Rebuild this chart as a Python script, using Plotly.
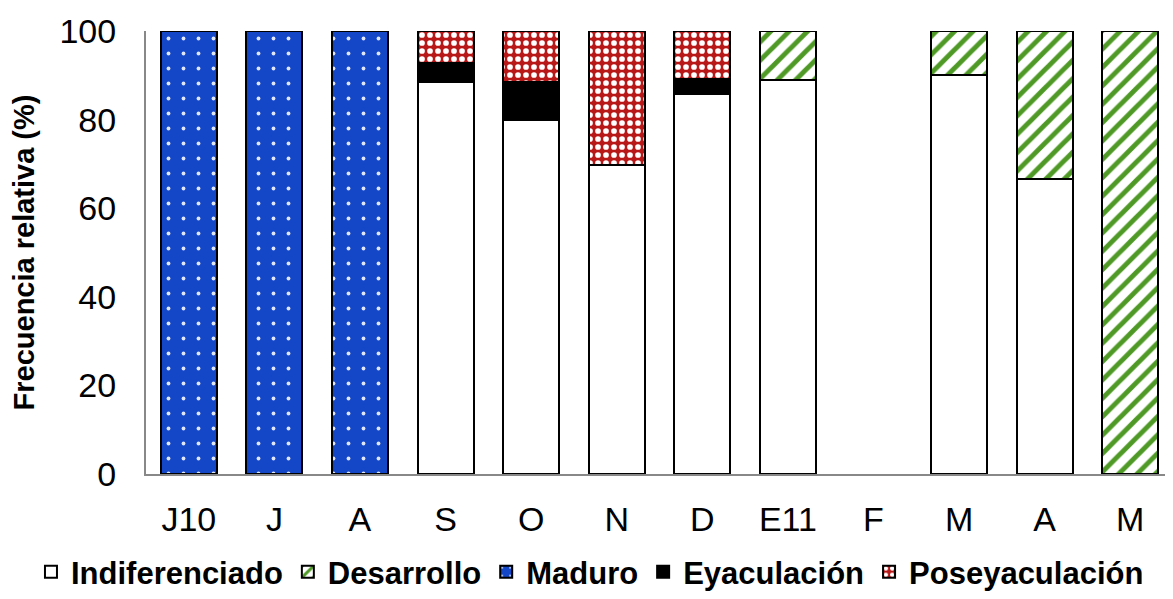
import plotly.graph_objects as go

months = ["J10", "J", "A", "S", "O", "N", "D", "E11", "F", "M", "A ", "M "]
tick_labels = ["J10", "J", "A", "S", "O", "N", "D", "E11", "F", "M", "A", "M"]
indiferenciado = [0, 0, 0, 88.4, 80.0, 69.7, 85.8, 88.9, 0, 90.0, 66.7, 0]
desarrollo = [0, 0, 0, 0, 0, 0, 0, 11.1, 0, 10.0, 33.3, 100]
maduro = [100, 100, 100, 0, 0, 0, 0, 0, 0, 0, 0, 0]
eyaculacion = [0, 0, 0, 4.3, 8.4, 0, 3.4, 0, 0, 0, 0, 0]
poseyaculacion = [0, 0, 0, 7.3, 11.6, 30.3, 10.8, 0, 0, 0, 0, 0]


def nz(vals):
    return [v if v else None for v in vals]


line = dict(color="black", width=2)
fig = go.Figure()
fig.add_trace(go.Bar(x=months, y=nz(indiferenciado), name="Indiferenciado",
                     marker=dict(color="white", line=line)))
fig.add_trace(go.Bar(x=months, y=nz(desarrollo), name="Desarrollo",
                     marker=dict(color="white", line=line,
                                 pattern=dict(shape="/", fgcolor="#4f9a26", bgcolor="white",
                                              size=13, solidity=0.38, fgopacity=1))))
fig.add_trace(go.Bar(x=months, y=nz(maduro), name="Maduro",
                     marker=dict(color="#1446c8", line=line,
                                 pattern=dict(shape=".", fgcolor="#dfe6fa", bgcolor="#1446c8",
                                              size=15, solidity=0.05, fgopacity=1))))
fig.add_trace(go.Bar(x=months, y=nz(eyaculacion), name="Eyaculación",
                     marker=dict(color="black", line=line)))
fig.add_trace(go.Bar(x=months, y=nz(poseyaculacion), name="Poseyaculación",
                     marker=dict(color="#b81818", line=line,
                                 pattern=dict(shape=".", fgcolor="white", bgcolor="#b81818",
                                              size=8, solidity=0.4, fgopacity=1))))

# the page body adds an 8px offset, so the figure is sized to fill the rest of the window
fig.update_layout(
    barmode="stack",
    bargap=0.345,
    width=1165, height=591,
    margin=dict(l=138, r=0, t=23, b=124),
    plot_bgcolor="white", paper_bgcolor="white",
    font=dict(family="Arial, Liberation Sans, sans-serif", color="black"),
    showlegend=True,
    legend=dict(orientation="h", x=-0.112, xanchor="left",
                y=-0.221, yanchor="middle", traceorder="normal",
                font=dict(size=31, family="Arial, Liberation Sans, sans-serif", weight="bold"),
                itemwidth=30, tracegroupgap=0),
    xaxis=dict(tickmode="array", tickvals=months, ticktext=tick_labels,
               tickfont=dict(size=34), showline=True, linecolor="#888888", linewidth=2,
               ticks="", ticklabelstandoff=14, automargin=False),
    yaxis=dict(range=[0, 100], tickvals=[0, 20, 40, 60, 80, 100], tickfont=dict(size=34),
               showline=True, linecolor="#888888", linewidth=2, showgrid=False,
               zeroline=False, ticks="", ticklabelstandoff=21, automargin=False,
               title=dict(text="Frecuencia relativa (%)", standoff=19,
                          font=dict(size=29, weight="bold"))),
)

fig.write_html("out.html")
